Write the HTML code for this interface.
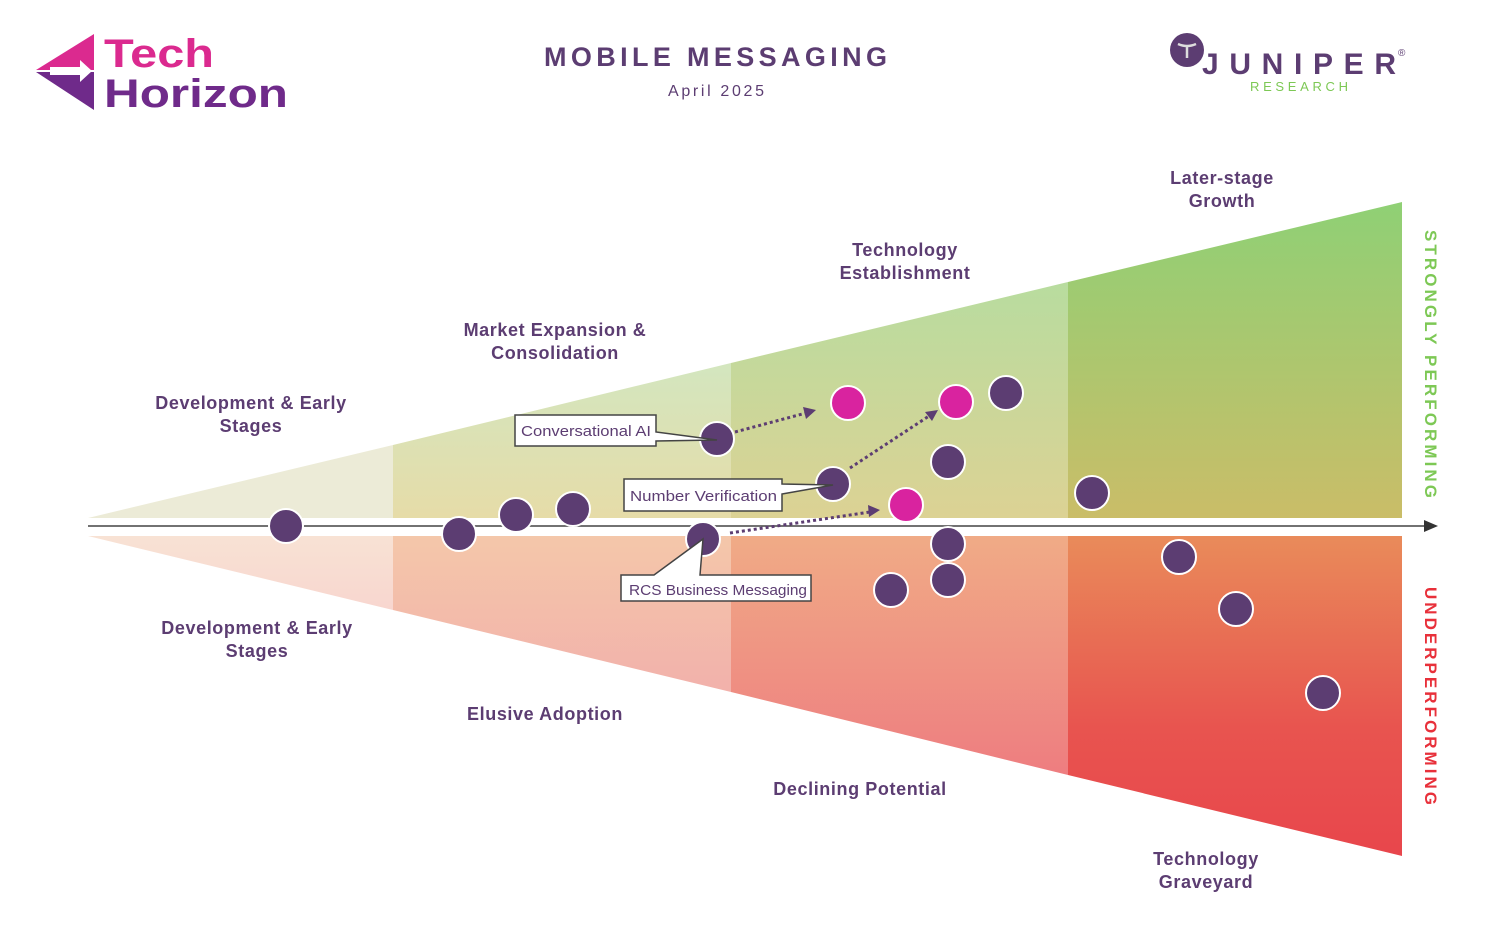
<!DOCTYPE html>
<html><head><meta charset="utf-8"><style>
html,body{margin:0;padding:0;background:#fff}
svg{display:block}
text{font-family:"Liberation Sans","DejaVu Sans",sans-serif}
</style></head><body>
<svg width="1485" height="951" viewBox="0 0 1485 951" xmlns="http://www.w3.org/2000/svg">
<defs>
<linearGradient id="t2" x1="0" y1="0" x2="0" y2="1"><stop offset="0" stop-color="#d3e6bf"/><stop offset="1" stop-color="#e6dca8"/></linearGradient>
<linearGradient id="t3" x1="0" y1="0" x2="0" y2="1"><stop offset="0" stop-color="#b8dc9f"/><stop offset="1" stop-color="#dcd294"/></linearGradient>
<linearGradient id="t4" x1="0" y1="0" x2="0" y2="1"><stop offset="0" stop-color="#8fd075"/><stop offset="1" stop-color="#cabd68"/></linearGradient>
<linearGradient id="b1" x1="0" y1="0" x2="0" y2="1"><stop offset="0" stop-color="#f8e2d4"/><stop offset="1" stop-color="#f8d6cf"/></linearGradient>
<linearGradient id="b2" x1="0" y1="0" x2="0" y2="1"><stop offset="0" stop-color="#f4c7aa"/><stop offset="1" stop-color="#f2b1ab"/></linearGradient>
<linearGradient id="b3" x1="0" y1="0" x2="0" y2="1"><stop offset="0" stop-color="#f0ab86"/><stop offset="1" stop-color="#ee7d80"/></linearGradient>
<linearGradient id="b4" x1="0" y1="0" x2="0" y2="1"><stop offset="0" stop-color="#e98b5a"/><stop offset="0.6" stop-color="#e8544f"/><stop offset="1" stop-color="#e8464c"/></linearGradient>
</defs>

<polygon points="88,518 393,445 393,518" fill="#ecebd7"/>
<polygon points="393,445 731,363 731,518 393,518" fill="url(#t2)"/>
<polygon points="731,363 1068,282 1068,518 731,518" fill="url(#t3)"/>
<polygon points="1068,282 1402,202 1402,518 1068,518" fill="url(#t4)"/>
<polygon points="88,536 393,536 393,610" fill="url(#b1)"/>
<polygon points="393,536 731,536 731,692 393,610" fill="url(#b2)"/>
<polygon points="731,536 1068,536 1068,775 731,692" fill="url(#b3)"/>
<polygon points="1068,536 1402,536 1402,856 1068,775" fill="url(#b4)"/>

<line x1="88" y1="526" x2="1426" y2="526" stroke="#444" stroke-width="1.5"/>
<polygon points="1424,520 1438,526 1424,532" fill="#333"/>

<g stroke="#5c3d72" stroke-width="3" stroke-dasharray="3,3" fill="none">
<line x1="735" y1="432" x2="806" y2="413"/>
<line x1="850" y1="468" x2="929" y2="416"/>
<line x1="730" y1="533" x2="870" y2="512"/>
</g>
<g fill="#5c3d72">
<polygon points="816,410 803,407 806,419"/>
<polygon points="938,410 925,412 932,421"/>
<polygon points="880,510 868,505 869,517"/>
</g>

<g stroke="#fff" stroke-width="2" fill="#5c3d72">
<circle cx="286" cy="526" r="17"/>
<circle cx="459" cy="534" r="17"/>
<circle cx="516" cy="515" r="17"/>
<circle cx="573" cy="509" r="17"/>
<circle cx="717" cy="439" r="17"/>
<circle cx="703" cy="539" r="17"/>
<circle cx="833" cy="484" r="17"/>
<circle cx="1006" cy="393" r="17"/>
<circle cx="948" cy="462" r="17"/>
<circle cx="948" cy="544" r="17"/>
<circle cx="948" cy="580" r="17"/>
<circle cx="891" cy="590" r="17"/>
<circle cx="1092" cy="493" r="17"/>
<circle cx="1179" cy="557" r="17"/>
<circle cx="1236" cy="609" r="17"/>
<circle cx="1323" cy="693" r="17"/>
<circle cx="848" cy="403" r="17" fill="#d9239f"/>
<circle cx="956" cy="402" r="17" fill="#d9239f"/>
<circle cx="906" cy="505" r="17" fill="#d9239f"/>
</g>

<g fill="#fff" stroke="#444" stroke-width="1.5">
<polygon points="515,415 656,415 656,432 717,440 656,441 656,446 515,446"/>
<polygon points="624,479 782,479 782,484 833,485 782,494 782,511 624,511"/>
<polygon points="621,575 654,575 703,539 700,575 811,575 811,601 621,601"/>
</g>
<g fill="#5c3d72" font-size="15">
<text x="521" y="436" textLength="130" lengthAdjust="spacingAndGlyphs">Conversational AI</text>
<text x="630" y="501" textLength="147" lengthAdjust="spacingAndGlyphs">Number Verification</text>
<text x="629" y="595" textLength="178" lengthAdjust="spacingAndGlyphs">RCS Business Messaging</text>
</g>

<g fill="#5c3d72" font-size="18" font-weight="bold" text-anchor="middle" letter-spacing="0.6">
<text x="251" y="409">Development &amp; Early</text>
<text x="251" y="432">Stages</text>
<text x="555" y="336">Market Expansion &amp;</text>
<text x="555" y="359">Consolidation</text>
<text x="905" y="256">Technology</text>
<text x="905" y="279">Establishment</text>
<text x="1222" y="184">Later-stage</text>
<text x="1222" y="207">Growth</text>
<text x="257" y="634">Development &amp; Early</text>
<text x="257" y="657">Stages</text>
<text x="545" y="720">Elusive Adoption</text>
<text x="860" y="795">Declining Potential</text>
<text x="1206" y="865">Technology</text>
<text x="1206" y="888">Graveyard</text>
</g>

<text transform="translate(1425,230) rotate(90)" font-size="17" font-weight="bold" fill="#7dc855" textLength="268" lengthAdjust="spacing">STRONGLY PERFORMING</text>
<text transform="translate(1425,587) rotate(90)" font-size="17" font-weight="bold" fill="#e8303a" textLength="218" lengthAdjust="spacing">UNDERPERFORMING</text>

<text x="544" y="66" font-size="27" font-weight="bold" fill="#5c3d72" textLength="343" lengthAdjust="spacing">MOBILE MESSAGING</text>
<text x="668" y="96" font-size="16" fill="#5c3d72" textLength="96" lengthAdjust="spacing">April 2025</text>

<polygon points="36,70 94,34 94,70" fill="#db2a8f"/>
<polygon points="36,72 94,72 94,110" fill="#6f2a8a"/>
<polygon points="50,67 80,67 80,60 92,71 80,82 80,75 50,75" fill="#fff"/>
<text x="104" y="67" font-size="40" font-weight="bold" fill="#db2a8f" textLength="110" lengthAdjust="spacingAndGlyphs">Tech</text>
<text x="104" y="107" font-size="40" font-weight="bold" fill="#6f2a8a" textLength="184" lengthAdjust="spacingAndGlyphs">Horizon</text>

<circle cx="1187" cy="50" r="17" fill="#5c3d72"/>
<path d="M1178,44 Q1187,48 1196,44 M1187,47 L1187,58" stroke="#ddd" stroke-width="2.5" fill="none"/>
<text x="1202" y="74" font-size="30" font-weight="bold" fill="#5c3d72" textLength="194" lengthAdjust="spacing">JUNIPER</text>
<text x="1398" y="56" font-size="10" fill="#5c3d72">®</text>
<text x="1250" y="91" font-size="13" fill="#7dc855" textLength="98" lengthAdjust="spacing">RESEARCH</text>
</svg>
</body></html>
